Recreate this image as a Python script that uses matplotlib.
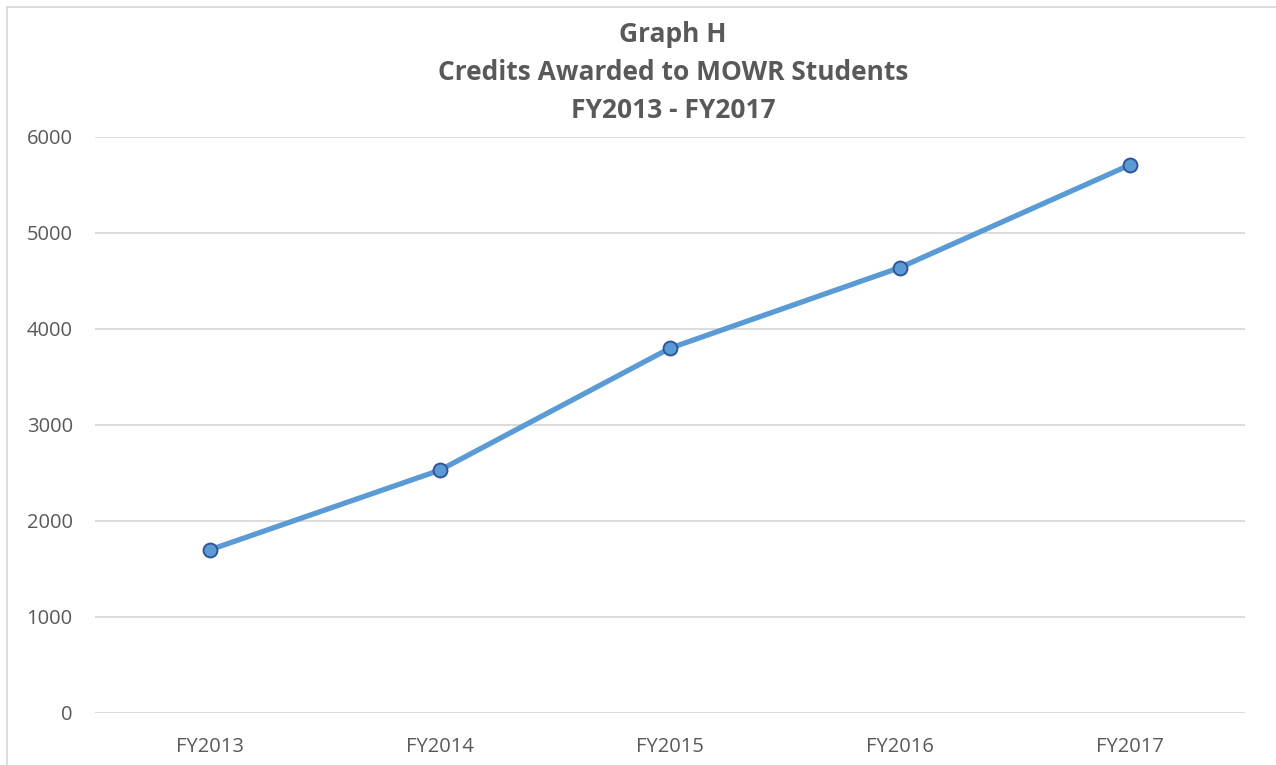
import matplotlib.pyplot as plt
from matplotlib.lines import Line2D

# Data
years = ['FY2013', 'FY2014', 'FY2015', 'FY2016', 'FY2017']
credits = [1700, 2530, 3800, 4640, 5710]
yticks = [0, 1000, 2000, 3000, 4000, 5000, 6000]

plt.rcParams['font.family'] = ['Open Sans', 'DejaVu Sans']
text_grey = '#595959'

fig = plt.figure(figsize=(12.76, 7.65), dpi=100)
ax = fig.add_axes([95 / 1276, 52 / 765, 1150 / 1276, 576 / 765])

x = list(range(len(years)))
ax.plot(x, credits, color='#5B9BD5', linewidth=3.8, marker='o', markersize=10,
        markerfacecolor='#5B9BD5', markeredgecolor='#2F5597', markeredgewidth=1.4,
        solid_capstyle='round', zorder=3)

ax.set_xlim(-0.5, len(years) - 0.5)
ax.set_ylim(0, 6000)
ax.set_yticks(yticks)
ax.set_xticks(x)
ax.set_xticklabels(years)
ax.grid(axis='y', color='#D9D9D9', linewidth=1.3)
ax.set_axisbelow(True)
for s in ax.spines.values():
    s.set_visible(False)
ax.tick_params(length=0, labelsize=14.5, labelcolor=text_grey)
ax.tick_params(axis='y', pad=16)
ax.tick_params(axis='x', pad=17)

title_lines = ['Graph H', 'Credits Awarded to MOWR Students', 'FY2013 - FY2017']
for i, line in enumerate(title_lines):
    fig.text(673 / 1276, 1 - (34 + 38 * i) / 765, line, ha='center', va='center',
             fontsize=19, fontweight='bold', color=text_grey)

# chart frame edges visible at left and top
fig.add_artist(Line2D([7 / 1276, 7 / 1276], [0, 1 - 7 / 765], transform=fig.transFigure,
                      color='#D9D9D9', linewidth=1.3))
fig.add_artist(Line2D([7 / 1276, 1], [1 - 7 / 765, 1 - 7 / 765], transform=fig.transFigure,
                      color='#D9D9D9', linewidth=1.3))

plt.savefig('out.png', dpi=100)
